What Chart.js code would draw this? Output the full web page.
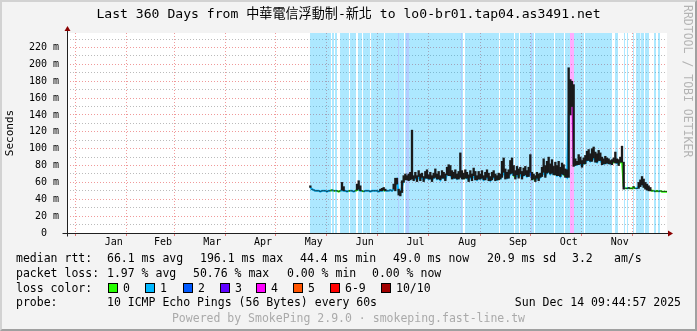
<!DOCTYPE html>
<html><head><meta charset="utf-8">
<script src="https://cdn.jsdelivr.net/npm/chart.js@4/dist/chart.umd.min.js"></script>
<style>
html,body{margin:0;padding:0;background:#f3f3f3;}
#wrap{position:relative;width:697px;height:331px;overflow:hidden;background:#f3f3f3;}
#frame{position:absolute;left:0;top:0;width:697px;height:331px;box-sizing:border-box;border-top:2px solid #d2d2d2;border-left:2px solid #d2d2d2;border-right:2px solid #a0a0a0;border-bottom:2px solid #a0a0a0;pointer-events:none;}
canvas{position:absolute;left:0;top:0;}
.t{position:absolute;font-family:'DejaVu Sans Mono','Noto Sans CJK TC',monospace;font-size:11.5px;line-height:14px;white-space:pre;color:#000;}
.box{position:absolute;width:8px;height:8px;border:1px solid #000;}
#wm{position:absolute;left:681px;top:5px;writing-mode:vertical-rl;font-family:'DejaVu Sans Mono',monospace;font-size:11.5px;color:#b4b4b4;white-space:pre;}
#foot{position:absolute;left:0;width:697px;text-align:center;top:311px;font-family:'DejaVu Sans Mono',monospace;font-size:11.5px;line-height:14px;color:#aaaaaa;white-space:pre;}
</style>
</head><body>
<div id="wrap">
<canvas id="c" width="697" height="331"></canvas>
<div id="wm">RRDTOOL / TOBI OETIKER</div>
<div id="legend"></div>
<div id="foot">Powered by SmokePing 2.9.0 · smokeping.fast-line.tw</div>
<div id="frame"></div>
</div>
<script>
// ---------------- data ----------------
const titleText = 'Last 360 Days from 中華電信浮動制-新北 to lo0-br01.tap04.as3491.net';
const monthNames = ['Jan','Feb','Mar','Apr','May','Jun','Jul','Aug','Sep','Oct','Nov','Dec'];
const spanDays = 360;                 // x axis: days since start of the 360-day window
const endTimeUTC = Date.UTC(2025, 11, 14, 1, 44, 57); // Sun Dec 14 09:44:57 2025 (UTC+8)
const yMax = 237.2;                   // top of plot in ms
const yTickValues = [0,10,20,30,40,50,60,70,80,90,100,110,120,130,140,150,160,170,180,190,200,210,220,230];

// first day index that has data; one value per day afterwards
const firstDay = 146;
const medianMs = [
 54,52,51,50,50,50,49,50,50,50, 49,50,50,51,50,50,50,49,50,51,
 50,50,49,50,50,50,49,50,51,52, 50,50,49,50,50,50,49,50,50,50,
 50,49,50,50,51,50,50,50,51,50, 52,
 57,62,48,46,55,63,66,65,64,66,66,64,
 65,63,67,64,66,63,65,67,64,66, 63,65,68,64,66,63,67,65,64,69, 70,68,66,65,67,64,66,
 68, 66,64,67,65,63,66,64,68,65,63, 66,64,67,63,65,66,64,62,65,66, 64,63,65,64,
 68,72,66,65,67,70,73,68,66,69, 67,70,66,68,71,67,69,72,65,64,
 63,65,64,66,69,72,68,71,74,70, 73,69,71,68,70,67,72,69,68,66,
 140,172,176,82,
 82,81,83,82,80,82,84,86,88,85, 87,89,86,84,88,86,83,82,84,83, 84,82,83,84,85,83,82,84,86,
 55, 53,53,53,53,53,54,53,53, 55,57,60,56,54,53,52,51, 50,50,49,50,49,50,49,49,49,49
];
const smokeHighMs = [
 56,52,51,50,50,50,49,50,50,50, 49,50,50,51,50,50,50,49,50,60,
 55,50,49,50,50,50,49,50,58,62, 56,50,49,50,50,50,49,50,50,50,
 50,49,52,53,54,52,50,50,51,50, 58,
 65,65,52,50,62,68,70,68,70,72,122,68,
 72,68,74,70,71,67,73,75,69,72, 68,71,76,70,73,68,74,72,70,78, 81,80,74,72,75,70,73,
 95, 74,71,75,72,69,74,70,77,73,68, 73,70,74,68,72,75,71,67,72,74, 70,68,71,70,
 85,89,76,72,75,86,89,80,74,79, 76,78,73,77,79,74,78,93,72,70,
 68,72,70,71,78,88,80,85,90,82, 87,79,84,80,85,78,83,81,76,75,
 196,182,180,176,
 88,85,93,90,86,89,92,97,99,94, 100,102,96,94,98,95,90,88,91,89, 88,86,87,89,96,88,87,90,103,
 84, 53,53,54,53,53,55,53,53, 60,63,67,64,60,58,56,54, 50,50,49,50,49,50,49,49,49,49
];
const smokeLowMs = [
 54,52,51,50,50,50,49,50,50,50, 49,50,50,51,50,50,50,49,50,51,
 50,50,49,50,50,50,49,50,51,52, 50,50,49,50,50,50,49,50,50,50,
 50,49,50,50,51,50,50,50,51,50, 52,
 50,58,45,44,48,60,63,63,62,63,64,62,
 65,61,67,62,66,61,65,65,64,64, 61,65,66,64,64,63,65,65,62,69, 68,68,64,65,65,64,64,
 66, 64,64,65,65,61,66,62,68,63,63, 64,64,65,63,63,66,62,62,63,66, 62,63,63,64,
 66,72,64,65,65,70,71,68,64,69, 65,70,64,68,69,67,67,72,63,64,
 61,65,62,66,67,72,66,71,72,70, 71,69,69,68,68,67,70,69,66,66,
 66,140,150,79,
 80,81,81,82,78,82,82,86,86,85, 85,89,84,84,86,86,81,82,82,83, 82,82,81,84,83,83,80,84,84,
 52, 53,53,53,53,53,54,53,53, 53,55,57,54,52,51,50,50, 50,50,49,50,49,50,49,49,49,49
];
// loss background bands: start day, end day, lost pings (of 10)
const bandStart = [145.8,159.0,160.8,163.8,169.8,174.6,177.6,182.4,190.8,198.6,199.2,202.8,203.4,205.2,236.4,237.0,238.8,259.8,268.8,271.8,278.4,279.0,280.8,292.8,298.8,301.8,304.2,310.8,328.8,334.2,336.0,339.6,341.4,344.4,346.8,352.2,354.6];
const bandEnd   = [158.4,160.2,162.0,169.2,173.4,177.0,181.8,190.2,198.6,199.2,202.2,203.4,205.2,236.4,237.0,237.6,259.2,268.2,271.2,278.4,279.0,280.2,292.2,298.2,301.8,304.2,310.2,327.0,330.6,334.8,336.6,340.2,343.8,346.2,349.2,353.4,355.8];
const bandLoss  = [1,1,1,1,1,1,1,1,1,2,1,1,2,1,2,1,1,1,1,1,2,1,1,1,1,4,1,1,1,1,1,1,1,1,1,1,1];

const lossLabels = ['0','1','2','3','4','5','6-9','10/10'];
const lossColors = ['#26ff00','#00b8ff','#0059ff','#5e00ff','#ff00ff','#ff5500','#ff0000','#a10000'];
const lossBg     = ['rgba(38,255,0,0.32)','rgba(0,184,255,0.32)','rgba(0,89,255,0.30)','rgba(94,0,255,0.30)','rgba(255,0,255,0.32)','rgba(255,85,0,0.32)','rgba(255,0,0,0.32)','rgba(161,0,0,0.32)'];

// ---------------- helpers ----------------
const FONT = "'DejaVu Sans Mono','Noto Sans CJK TC',monospace";
const DAY = 86400000;
const startTimeUTC = endTimeUTC - spanDays * DAY;
function lossIndex(n){ return n <= 5 ? n : (n < 10 ? 6 : 7); }
function lossAt(d){
  for (let i = 0; i < bandStart.length; i++) if (d >= bandStart[i] && d < bandEnd[i]) return bandLoss[i];
  return 0;
}
const monthStarts = [], monthMids = [];
for (let y = 2024; y <= 2025; y++) for (let m = 0; m < 12; m++) {
  const s = (Date.UTC(y, m, 1) - 8 * 3600000 - startTimeUTC) / DAY;
  const e = (Date.UTC(y, m + 1, 1) - 8 * 3600000 - startTimeUTC) / DAY;
  if (s >= 0 && s <= spanDays) monthStarts.push(s);
  const mid = (s + e) / 2;
  if (mid >= 0 && mid <= spanDays) monthMids.push({ v: mid, name: monthNames[m] });
}

// ---------------- datasets ----------------
const datasets = [];
[1,2,3,4,5,6,7,8,9,10].forEach(level => {
  const pts = [];
  bandLoss.forEach((l, i) => {
    if (l !== level) return;
    pts.push({x: bandStart[i], y: 0}, {x: bandStart[i], y: yMax}, {x: bandEnd[i], y: yMax}, {x: bandEnd[i], y: 0});
  });
  if (!pts.length) return;
  datasets.push({ type: 'line', data: pts, borderWidth: 0, pointRadius: 0, fill: 'origin',
    backgroundColor: lossBg[lossIndex(level)], order: 5 });
});
datasets.push({
  type: 'line', order: 2, borderWidth: 2, pointRadius: 0, tension: 0, fill: false,
  borderColor: lossColors[1],
  data: medianMs.map((v, i) => ({ x: firstDay + i, y: v })),
  segment: { borderColor: c => lossColors[lossIndex(lossAt((c.p0.parsed.x + c.p1.parsed.x) / 2))] }
});
datasets.push({
  type: 'bar', order: 1, grouped: false, barPercentage: 1, categoryPercentage: 1,
  backgroundColor: '#1a1a1a', borderWidth: 0,
  data: medianMs.map((_, i) => ({ x: firstDay + i, y: [smokeLowMs[i], smokeHighMs[i]] }))
});

// ---------------- decorations ----------------
const decor = {
  id: 'decor',
  beforeDraw(chart){
    const {ctx, chartArea: a} = chart;
    ctx.save(); ctx.fillStyle = '#ffffff';
    ctx.fillRect(a.left, a.top, a.right - a.left, a.bottom - a.top);
    ctx.restore();
  },
  afterDraw(chart){
    const {ctx, chartArea: a} = chart;
    const xl = Math.round(a.left) + 0.5, yb = Math.round(a.bottom) + 0.5;
    ctx.save();
    ctx.strokeStyle = '#202020'; ctx.lineWidth = 1;
    ctx.beginPath();
    ctx.moveTo(xl - 5, yb); ctx.lineTo(a.right + 3, yb);
    ctx.moveTo(xl, yb + 3); ctx.lineTo(xl, a.top - 3);
    ctx.stroke();
    ctx.fillStyle = '#8b0000';
    ctx.beginPath(); ctx.moveTo(xl - 3, a.top - 2); ctx.lineTo(xl + 3, a.top - 2); ctx.lineTo(xl, a.top - 7); ctx.closePath(); ctx.fill();
    ctx.beginPath(); ctx.moveTo(a.right + 1, yb - 3); ctx.lineTo(a.right + 1, yb + 3); ctx.lineTo(a.right + 6, yb); ctx.closePath(); ctx.fill();
    ctx.restore();
  }
};

Chart.defaults.font.family = FONT;
Chart.defaults.color = '#000';

new Chart(document.getElementById('c'), {
  type: 'line',
  data: { datasets },
  plugins: [decor],
  options: {
    responsive: false, animation: false, devicePixelRatio: 1,
    layout: { padding: { left: 0, right: 0, top: 0, bottom: 78 } },
    plugins: {
      legend: { display: false }, tooltip: { enabled: false },
      title: { display: true, text: titleText, color: '#000',
        font: { family: FONT, size: 13.1, weight: 'normal' }, padding: { top: 7, bottom: 10.3 } }
    },
    scales: {
      x: {
        type: 'linear', min: 0, max: spanDays, offset: false,
        afterFit: s => { s.height = 20; },
        afterBuildTicks: s => {
          s.ticks = monthStarts.map(v => ({ value: v })).concat(monthMids.map(m => ({ value: m.v })))
            .sort((a, b) => a.value - b.value);
        },
        ticks: { autoSkip: false, maxRotation: 0, padding: 0, font: { size: 10 },
          callback: v => { const m = monthMids.find(q => Math.abs(q.v - v) < 1e-6); return m ? m.name : ''; } },
        grid: { drawOnChartArea: true, tickLength: 3, lineWidth: 1,
          color: c => (c.tick && monthStarts.some(v => Math.abs(v - c.tick.value) < 1e-6)) ? 'rgba(235,120,120,0.75)' : 'rgba(0,0,0,0)',
          tickColor: c => (c.tick && monthStarts.some(v => Math.abs(v - c.tick.value) < 1e-6)) ? 'rgba(220,90,90,0.8)' : 'rgba(0,0,0,0)' },
        border: { display: false, dash: [1, 2] }
      },
      y: {
        type: 'linear', position: 'left', min: 0, max: yMax,
        afterFit: s => { s.width = 67; },
        afterBuildTicks: s => { s.ticks = yTickValues.map(v => ({ value: v })); },
        ticks: { autoSkip: false, padding: 8, font: { size: 10 },
          callback: v => v === 0 ? '0  ' : (v % 20 === 0 ? v + ' m' : '') },
        title: { display: true, text: 'Seconds', color: '#000', font: { size: 11 }, padding: { top: 4, bottom: 4 } },
        grid: { drawTicks: false, lineWidth: 1,
          color: c => c.tick && c.tick.value === 0 ? 'rgba(0,0,0,0)' : (c.tick && c.tick.value % 20 === 0 ? 'rgba(235,120,120,0.75)' : 'rgba(170,170,170,0.8)') },
        border: { display: false, dash: [1, 2] }
      },
      yR: {
        type: 'linear', position: 'right', display: true,
        afterFit: s => { s.width = 30; },
        ticks: { display: false }, grid: { display: false }, border: { display: false }
      }
    }
  }
});

// ---------------- legend (html text) ----------------
const legend = document.getElementById('legend');
function addText(x, yc, txt, right){
  const d = document.createElement('div'); d.className = 't'; d.textContent = txt;
  d.style.top = (yc - 7) + 'px';
  if (right) { d.style.right = (697 - x) + 'px'; } else { d.style.left = x + 'px'; }
  legend.appendChild(d);
}
const rows = [
  [258, [[16,'median rtt:'],[107,'66.1 ms avg'],[200,'196.1 ms max'],[300,'44.4 ms min'],[393,'49.0 ms now'],[487,'20.9 ms sd'],[572,'3.2'],[614,'am/s']]],
  [273, [[16,'packet loss:'],[107,'1.97 % avg'],[193,'50.76 % max'],[287,'0.00 % min'],[372,'0.00 % now']]],
  [288, [[16,'loss color:']]],
  [302, [[16,'probe:'],[107,'10 ICMP Echo Pings (56 Bytes) every 60s']]]
];
rows.forEach(([yc, items]) => items.forEach(([x, t]) => addText(x, yc, t)));
addText(681, 302, 'Sun Dec 14 09:44:57 2025', true);
const boxX = [108,145,183,220,256,293,330,381];
lossLabels.forEach((lab, i) => {
  const b = document.createElement('div'); b.className = 'box';
  b.style.left = boxX[i] + 'px'; b.style.top = (288 - 5) + 'px'; b.style.background = lossColors[i];
  legend.appendChild(b);
  addText(boxX[i] + 15, 288, lab);
});
</script>
</body></html>
